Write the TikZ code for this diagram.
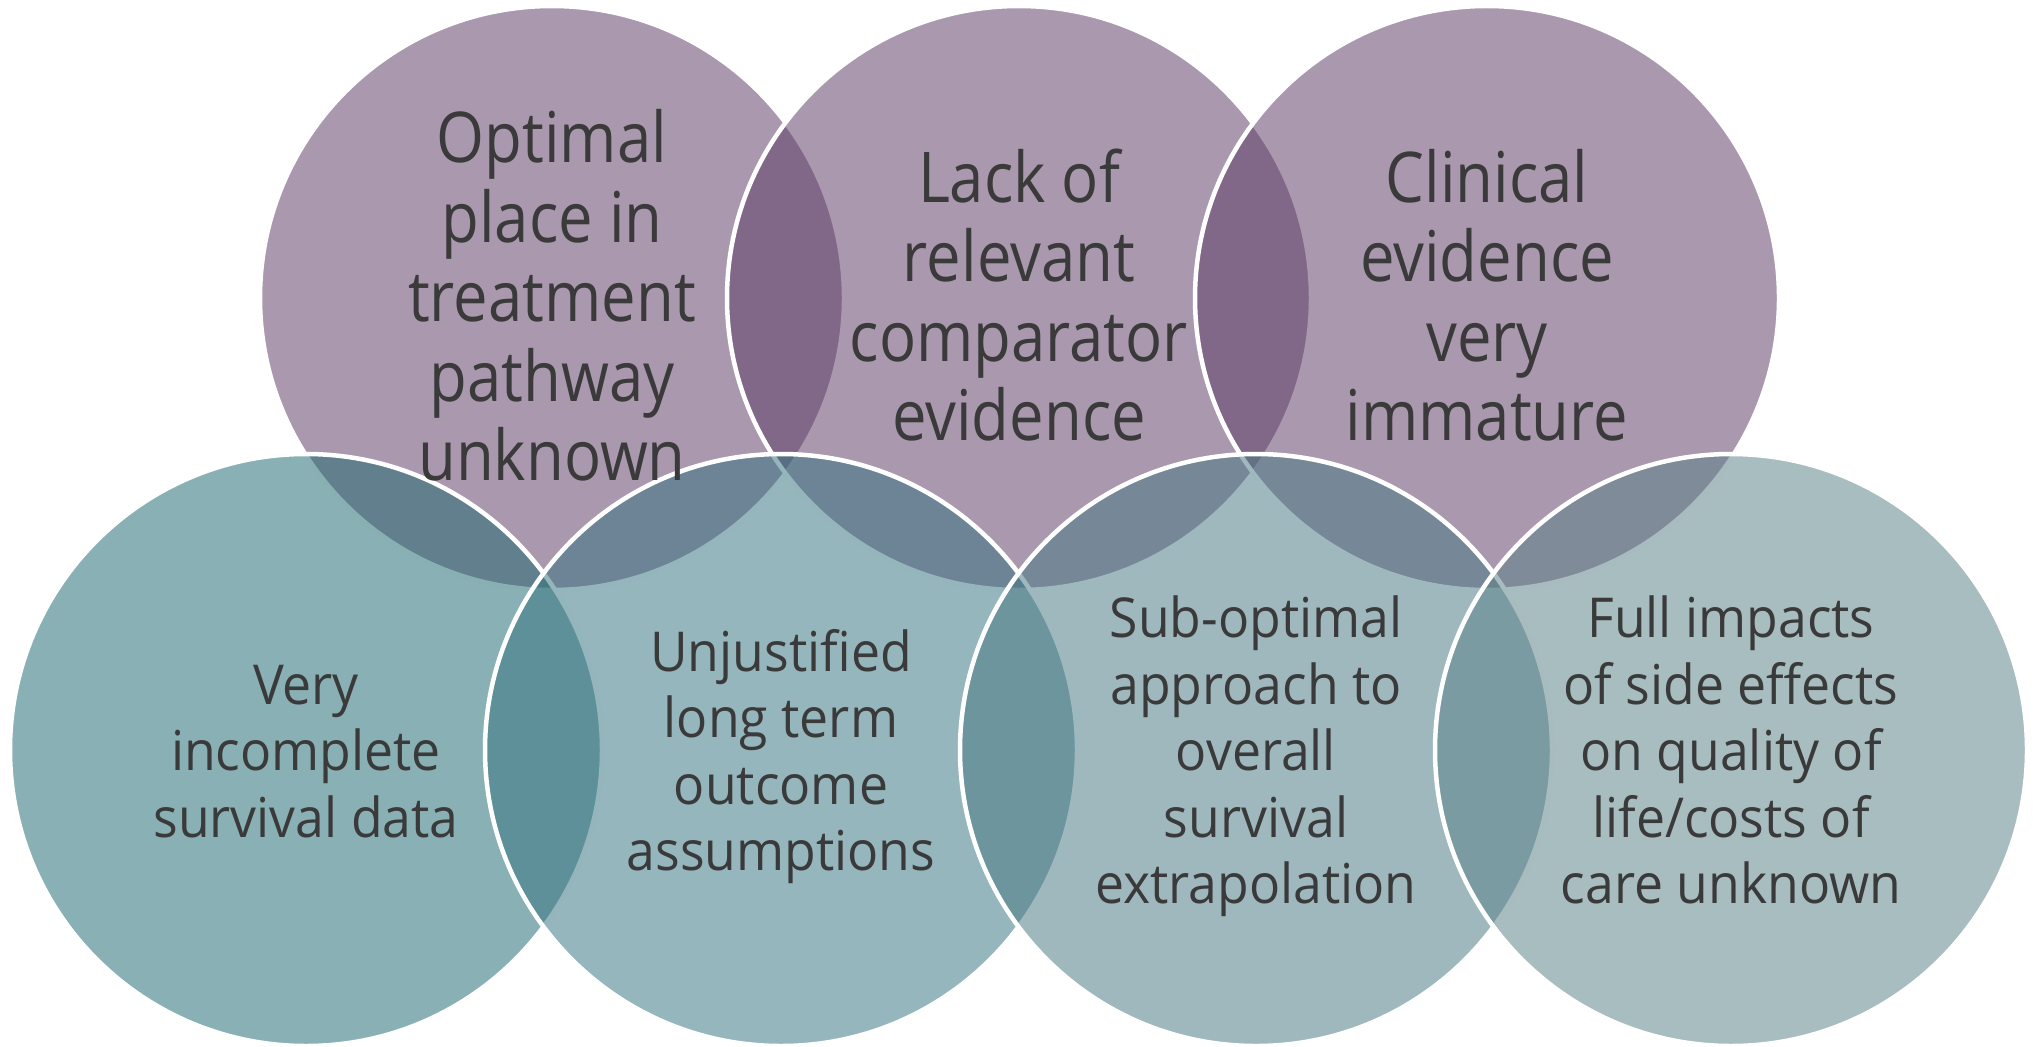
\documentclass[tikz,border=0pt]{standalone}
\usepackage{fontspec}
\setmainfont{Open Sans}[FakeStretch=0.88]
\newfontfamily\lowerfont{Open Sans}[FakeStretch=0.94]
\definecolor{plum}{RGB}{95,61,102}
\definecolor{tealA}{RGB}{32,106,113}
\definecolor{tealB}{RGB}{55,117,129}
\definecolor{tealC}{RGB}{72,121,132}
\definecolor{tealD}{RGB}{91,130,136}
\definecolor{ink}{RGB}{58,58,58}
\begin{document}
\begin{tikzpicture}[x=1pt,y=-1pt,
  venn/.style={circle, inner sep=0pt, draw=white, line width=4.5pt, fill opacity=0.53},
  upper/.style={venn, minimum size=584pt},
  lower/.style={venn, minimum size=592pt},
  label/.style={align=center, inner sep=0pt, text=ink, yshift=-7.6pt},
  bigtext/.style={label, font=\fontsize{70}{79.5}\selectfont},
  smalltext/.style={label, font=\lowerfont\fontsize{55}{66.5}\selectfont}]
\useasboundingbox (0,0) rectangle (2033,1046);

% upper row of circles
\node[upper, fill=plum] (p1) at (552,298) {};
\node[upper, fill=plum] (p2) at (1019,298) {};
\node[upper, fill=plum] (p3) at (1487,298) {};

% lower row of circles
\node[lower, fill=tealA] (q1) at (306,750) {};
\node[lower, fill=tealB] (q2) at (781,750) {};
\node[lower, fill=tealC] (q3) at (1256,750) {};
\node[lower, fill=tealD] (q4) at (1731,750) {};

% captions
\node[bigtext] (tp1) at (p1) {\strut Optimal\\place in\\treatment\\pathway\\unknown\strut};
\node[bigtext] (tp2) at (p2) {\strut Lack of\\relevant\\comparator\\evidence\strut};
\node[bigtext] (tp3) at (p3) {\strut Clinical\\evidence\\very\\immature\strut};

\node[smalltext] (tq1) at (q1) {\strut Very\\incomplete\\survival data\strut};
\node[smalltext] (tq2) at (q2) {\strut Unjustified\\long term\\outcome\\assumptions\strut};
\node[smalltext] (tq3) at (q3) {\strut Sub-optimal\\approach to\\overall\\survival\\extrapolation\strut};
\node[smalltext] (tq4) at (q4) {\strut Full impacts\\of side effects\\on quality of\\life/costs of\\care unknown\strut};
\end{tikzpicture}
\end{document}
